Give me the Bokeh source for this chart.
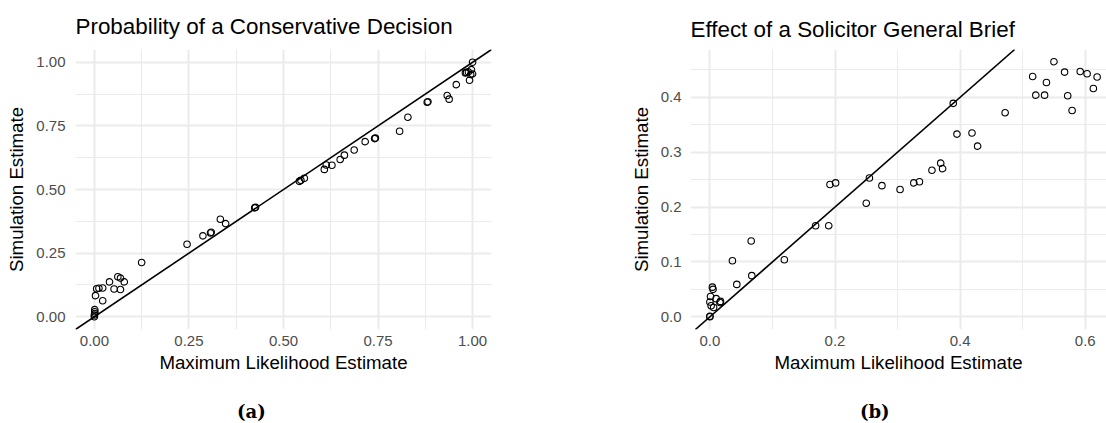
from bokeh.plotting import figure
from bokeh.layouts import row, column
from bokeh.models import Range1d, FixedTicker, Slope, Title, Div
from bokeh.embed import file_html
from bokeh.resources import INLINE

# ---------------- data ----------------
a_title = "Probability of a Conservative Decision"
b_title = "Effect of a Solicitor General Brief"
x_label = "Maximum Likelihood Estimate"
y_label = "Simulation Estimate"
captions = ["(a)", "(b)"]

a_mle = [0.000, 0.000, 0.001, 0.001, 0.001, 0.003, 0.006, 0.012, 0.022, 0.022,
         0.040, 0.052, 0.069, 0.062, 0.069, 0.079, 0.125, 0.245, 0.287, 0.307,
         0.309, 0.333, 0.347, 0.424, 0.426, 0.542, 0.546, 0.555, 0.608, 0.613,
         0.628, 0.650, 0.661, 0.687, 0.716, 0.741, 0.743, 0.807, 0.829, 0.880,
         0.882, 0.933, 0.938, 0.957, 0.981, 0.984, 0.989, 0.992, 0.997, 1.000,
         0.995, 1.000]
a_sim = [0.000, 0.007, 0.013, 0.020, 0.028, 0.083, 0.110, 0.112, 0.063, 0.113,
         0.137, 0.109, 0.107, 0.157, 0.152, 0.137, 0.213, 0.285, 0.318, 0.329,
         0.332, 0.383, 0.366, 0.428, 0.430, 0.532, 0.536, 0.544, 0.579, 0.596,
         0.595, 0.618, 0.635, 0.655, 0.688, 0.700, 0.702, 0.729, 0.784, 0.843,
         0.845, 0.869, 0.855, 0.912, 0.958, 0.960, 0.962, 0.929, 0.971, 0.954,
         0.952, 1.000]

b_mle = [0.000, 0.000, 0.000, 0.001, 0.004, 0.005, 0.002, 0.006, 0.010, 0.016,
         0.017, 0.036, 0.043, 0.066, 0.067, 0.119, 0.169, 0.190, 0.192, 0.201,
         0.250, 0.255, 0.275, 0.304, 0.326, 0.335, 0.355, 0.369, 0.372, 0.389,
         0.395, 0.419, 0.428, 0.472, 0.516, 0.521, 0.535, 0.538, 0.550, 0.567,
         0.572, 0.579, 0.592, 0.603, 0.613, 0.619]
b_sim = [0.000, 0.001, 0.027, 0.037, 0.054, 0.050, 0.020, 0.017, 0.033, 0.026,
         0.028, 0.102, 0.059, 0.138, 0.075, 0.104, 0.166, 0.166, 0.241, 0.244,
         0.207, 0.253, 0.239, 0.232, 0.244, 0.246, 0.267, 0.280, 0.270, 0.389,
         0.333, 0.335, 0.311, 0.372, 0.438, 0.404, 0.404, 0.427, 0.465, 0.446,
         0.403, 0.376, 0.447, 0.443, 0.416, 0.437]

a_ticks = [0.0, 0.25, 0.5, 0.75, 1.0]
a_tick_labels = ["0.00", "0.25", "0.50", "0.75", "1.00"]
a_minor = [0.125, 0.375, 0.625, 0.875]
b_ticks = [0.0, 0.2, 0.4, 0.6]
b_tick_labels = ["0.0", "0.2", "0.4", "0.6"]
b_yticks = [0.0, 0.1, 0.2, 0.3, 0.4]
b_ytick_labels = ["0.0", "0.1", "0.2", "0.3", "0.4"]
b_minor = [0.1, 0.3, 0.5]
b_yminor = [0.05, 0.15, 0.25, 0.35, 0.45]

FONT = "Liberation Sans"
GRID = "#EBEBEB"
FIG_H = 379


def make_panel(border_left, border_right, border_top, frame_h, xr, yr,
               xt, xtl, xm, yt, ytl, ym, title, title_standoff, ylab_standoff, xs, ys):
    p = figure(width=553, height=FIG_H, x_range=Range1d(*xr), y_range=Range1d(*yr),
               output_backend="svg", toolbar_location=None,
               min_border_left=border_left, min_border_right=border_right,
               min_border_top=border_top, min_border_bottom=FIG_H - border_top - frame_h)
    p.outline_line_color = None
    p.background_fill_color = "white"
    p.border_fill_color = "white"

    t = Title(text=title, text_font=FONT, text_font_size="22.4px",
              text_font_style="normal", text_color="black", align="left",
              standoff=title_standoff)
    p.add_layout(t, "above")

    p.xaxis.ticker = FixedTicker(ticks=xt, minor_ticks=xm)
    p.yaxis.ticker = FixedTicker(ticks=yt, minor_ticks=ym)
    p.xaxis.major_label_overrides = {v: s for v, s in zip(xt, xtl)}
    p.yaxis.major_label_overrides = {v: s for v, s in zip(yt, ytl)}
    for ax in (p.xaxis, p.yaxis):
        ax.axis_line_color = None
        ax.major_tick_line_color = None
        ax.minor_tick_line_color = None
        ax.major_tick_in = 0
        ax.major_tick_out = 0
        ax.minor_tick_in = 0
        ax.minor_tick_out = 0
        ax.major_label_text_font = FONT
        ax.major_label_text_font_size = "15px"
        ax.major_label_text_color = "#4D4D4D"
        ax.axis_label_text_font = FONT
        ax.axis_label_text_font_size = "18.7px"
        ax.axis_label_text_font_style = "normal"
        ax.axis_label_text_color = "black"
    p.xaxis.axis_label = x_label
    p.yaxis.axis_label = y_label
    p.xaxis.major_label_standoff = 6
    p.yaxis.major_label_standoff = ylab_standoff
    p.xaxis.axis_label_standoff = 3
    p.yaxis.axis_label_standoff = 6

    p.grid.grid_line_color = GRID
    p.grid.grid_line_width = 2
    p.grid.minor_grid_line_color = GRID
    p.grid.minor_grid_line_width = 1

    p.add_layout(Slope(gradient=1, y_intercept=0, line_color="black", line_width=1.6))
    p.scatter(xs, ys, size=6.5, fill_color=None, line_color="black", line_width=1.1)
    return p


pa = make_panel(75, 62, 49, 280, (-0.05, 1.05), (-0.05, 1.05),
                a_ticks, a_tick_labels, a_minor, a_ticks, a_tick_labels, a_minor,
                a_title, 22, 10, a_mle, a_sim)
pb = make_panel(137, 0, 46, 283, (-0.031, 0.634), (-0.0232, 0.4872),
                b_ticks, b_tick_labels, b_minor, b_yticks, b_ytick_labels, b_yminor,
                b_title, 16, 9, b_mle, b_sim)

span_style = ("position:absolute;top:20px;font-family:'DejaVu Serif';"
              "font-weight:bold;font-size:18px;color:black;white-space:nowrap;")
cap_html = (
    '<div style="position:relative;width:1106px;height:44px;">'
    f'<span style="{span_style}left:237px;">{captions[0]}</span>'
    f'<span style="{span_style}left:860px;">{captions[1]}</span>'
    '</div>'
)
cap_div = Div(text=cap_html, width=1106, height=44, margin=(0, 0, 0, 0))

layout = column(row(pa, pb, spacing=0), cap_div, spacing=0)
open("out.html", "w").write(file_html(layout, INLINE))
